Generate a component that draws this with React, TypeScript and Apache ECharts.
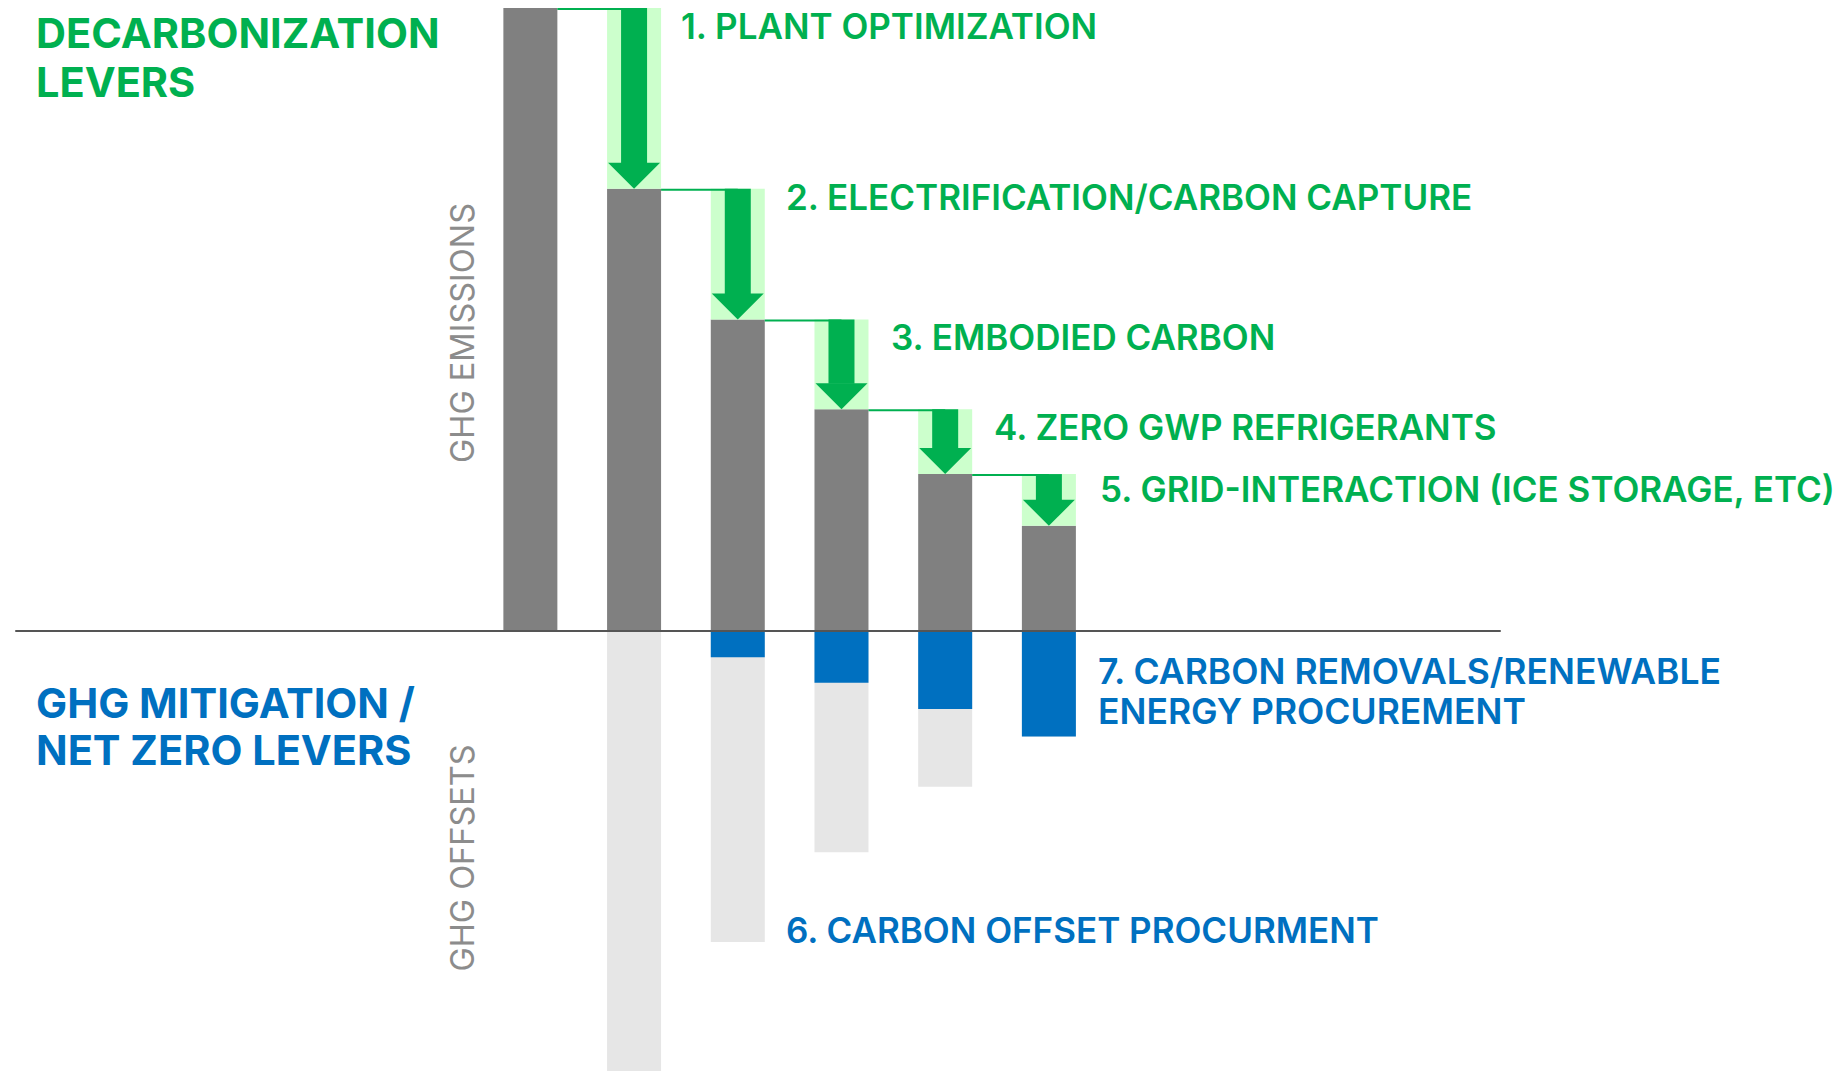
import React, { useEffect, useRef } from "react";
import * as echarts from "echarts";

// ---- data ----
const categories = [
  "Baseline",
  "Plant optimization",
  "Electrification / carbon capture",
  "Embodied carbon",
  "Zero GWP refrigerants",
  "Grid-interaction",
];
const positions = [1, 2, 3, 4, 5, 6];
const emissions = [100, 71, 50, 35.6, 25.2, 16.9];
const renewables = [0, 0, -4.2, -8.3, -12.5, -16.9];
const offsets = [0, -71, -45.7, -27.2, -12.5, 0];

const leverLabels = [
  "1. PLANT OPTIMIZATION",
  "2. ELECTRIFICATION/CARBON CAPTURE",
  "3. EMBODIED CARBON",
  "4. ZERO GWP REFRIGERANTS",
  "5. GRID-INTERACTION (ICE STORAGE, ETC)",
];
const offsetLabel = "6. CARBON OFFSET PROCURMENT";
const renewableLabel = ["7. CARBON REMOVALS/RENEWABLE", "ENERGY PROCUREMENT"];
const topHeading = ["DECARBONIZATION", "LEVERS"];
const bottomHeading = ["GHG MITIGATION /", "NET ZERO LEVERS"];
const axisTitles = ["GHG EMISSIONS", "GHG OFFSETS"];

const GREEN = "#00b050";
const LIGHT_GREEN = "#ccffcc";
const BLUE = "#0070c0";
const GRAY = "#808080";
const LIGHT_GRAY = "#e6e6e6";
const FONT = 'Inter, "Noto Sans", sans-serif';
const BAR_W = 54;

export default function App() {
  const ref = useRef<HTMLDivElement>(null);

  useEffect(() => {
    document.body.style.margin = "0";
    if (!ref.current) return;
    const chart = echarts.init(ref.current, null, { renderer: "svg" });

    const arrowData = positions.slice(1).map((p, i) => [p, emissions[i], emissions[i + 1]]);
    // total below-zero extent = renewables + carbon offsets
    const offsetTotals = positions.map((p, i) => [p, renewables[i] + offsets[i]]);

    const stepLabelPos = [
      [681, 26],
      [786, 197],
      [891, 337],
      [994, 427],
      [1100, 489],
    ];

    const txt = (
      text: string,
      x: number,
      y: number,
      color: string,
      size: number,
      weight: number | string
    ) => ({
      type: "text",
      x,
      y,
      silent: true,
      style: {
        text,
        fill: color,
        fontFamily: FONT,
        fontSize: size,
        fontWeight: weight,
        align: "left",
        verticalAlign: "middle",
      },
    });

    const vtxt = (text: string, x: number, y: number) => ({
      type: "text",
      x,
      y,
      rotation: Math.PI / 2,
      silent: true,
      style: {
        text,
        fill: "#8c8c8c",
        fontFamily: FONT,
        fontSize: 32.5,
        fontWeight: 400,
        align: "center",
        verticalAlign: "middle",
      },
    });

    const graphics: any[] = [
      txt(topHeading[0], 36, 33, GREEN, 41.5, 700),
      txt(topHeading[1], 36, 82, GREEN, 41.5, 700),
      txt(bottomHeading[0], 36, 703, BLUE, 41.5, 700),
      txt(bottomHeading[1], 36, 750, BLUE, 41.5, 700),
      ...leverLabels.map((l, i) => txt(l, stepLabelPos[i][0], stepLabelPos[i][1], GREEN, 35, 600)),
      txt(renewableLabel[0], 1098, 671, BLUE, 35.5, 600),
      txt(renewableLabel[1], 1098, 711, BLUE, 35.5, 600),
      txt(offsetLabel, 786, 930, BLUE, 35, 600),
      vtxt(axisTitles[0], 462, 333),
      vtxt(axisTitles[1], 462, 858),
    ];

    const option: any = {
      animation: false,
      backgroundColor: "#ffffff",
      grid: { left: 16, right: 334, top: 8, bottom: 0, containLabel: false },
      xAxis: {
        type: "value",
        min: -3.96,
        max: 10.35,
        z: 3,
        axisLine: { show: true, onZero: true, lineStyle: { color: "#555555", width: 2 } },
        axisTick: { show: false },
        axisLabel: { show: false },
        splitLine: { show: false },
      },
      yAxis: {
        type: "value",
        min: -70.6,
        max: 100,
        show: false,
        splitLine: { show: false },
      },
      series: [
        {
          name: "GHG emissions",
          type: "bar",
          barWidth: BAR_W,
          barGap: "-100%",
          itemStyle: { color: GRAY },
          data: positions.map((p, i) => [p, emissions[i]]),
        },
        {
          name: "Carbon offsets",
          type: "bar",
          barWidth: BAR_W,
          barGap: "-100%",
          itemStyle: { color: LIGHT_GRAY },
          data: offsetTotals,
        },
        {
          name: "Carbon removals / renewable energy",
          type: "bar",
          barWidth: BAR_W,
          barGap: "-100%",
          itemStyle: { color: BLUE },
          data: positions.map((p, i) => [p, renewables[i]]),
        },
        {
          name: "Reductions",
          type: "custom",
          z: 4,
          data: arrowData,
          renderItem: (params: any, api: any) => {
            const x = api.value(0);
            const from = api.value(1);
            const to = api.value(2);
            const top = api.coord([x, from]);
            const bot = api.coord([x, to]);
            const prev = api.coord([x - 1, from]);
            const cx = top[0];
            const half = BAR_W / 2;
            const headH = 26;
            const headHalf = 26;
            const shaftHalf = 13;
            return {
              type: "group",
              children: [
                {
                  type: "rect",
                  shape: { x: cx - half, y: top[1], width: BAR_W, height: bot[1] - top[1] },
                  style: { fill: LIGHT_GREEN },
                },
                {
                  type: "line",
                  shape: { x1: prev[0] + half, y1: top[1] + 1, x2: cx, y2: top[1] + 1 },
                  style: { stroke: GREEN, lineWidth: 2 },
                },
                {
                  type: "rect",
                  shape: {
                    x: cx - shaftHalf,
                    y: top[1],
                    width: shaftHalf * 2,
                    height: bot[1] - headH - top[1] + 0.5,
                  },
                  style: { fill: GREEN },
                },
                {
                  type: "polygon",
                  shape: {
                    points: [
                      [cx - headHalf, bot[1] - headH],
                      [cx + headHalf, bot[1] - headH],
                      [cx, bot[1]],
                    ],
                  },
                  style: { fill: GREEN },
                },
              ],
            };
          },
        },
      ],
      graphic: graphics,
    };

    chart.setOption(option);
    return () => chart.dispose();
  }, []);

  return <div ref={ref} style={{ width: 1834, height: 1071 }} />;
}
